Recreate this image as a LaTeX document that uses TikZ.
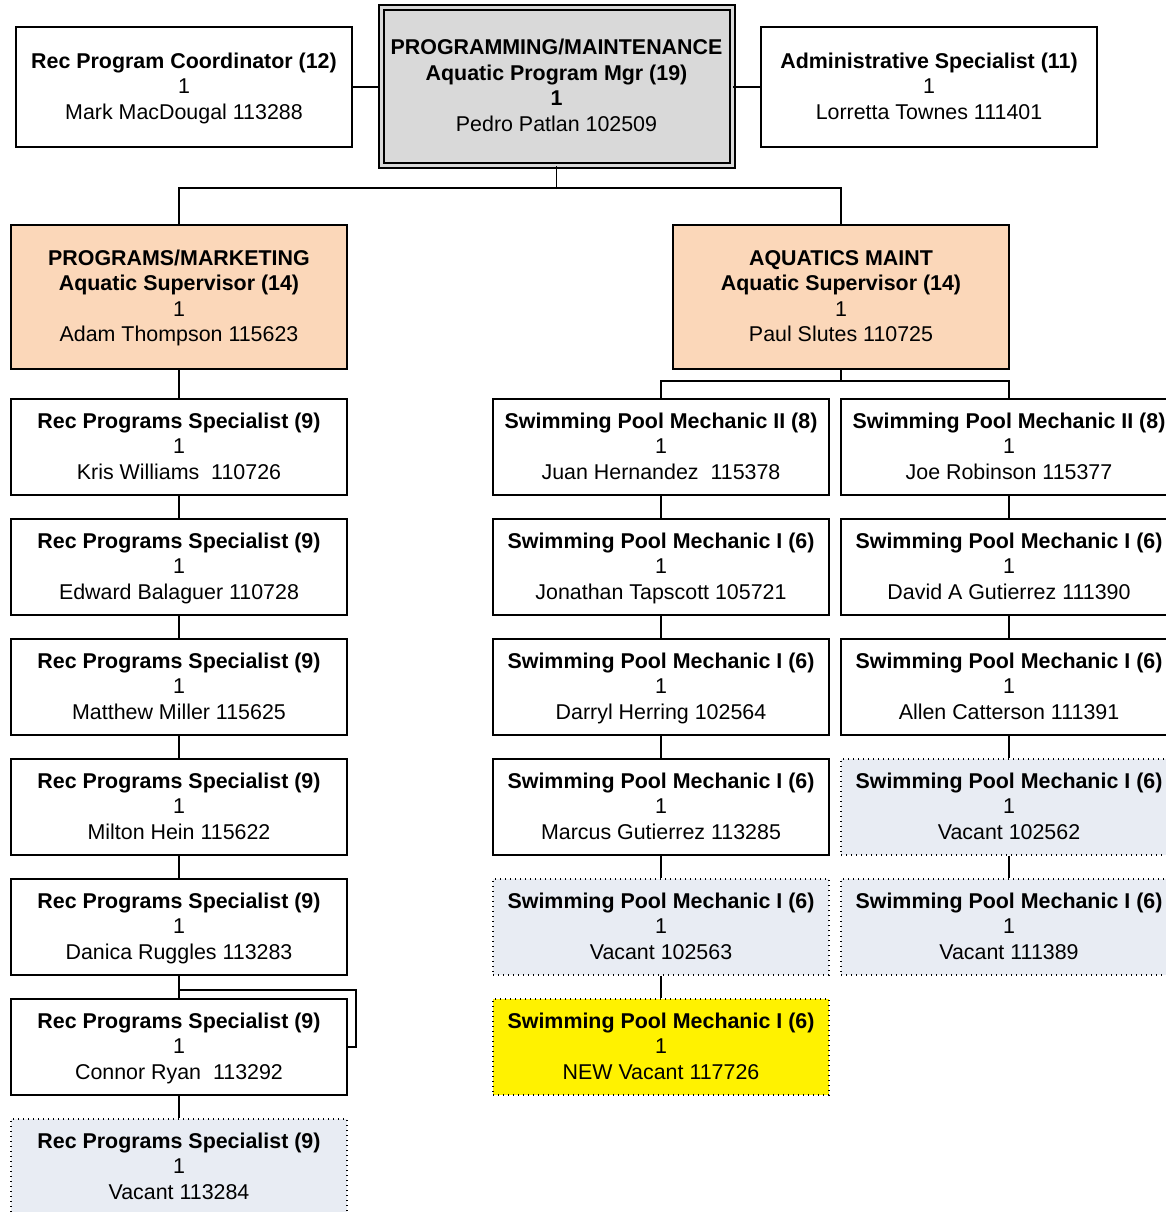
\documentclass[tikz,border=0pt]{standalone}
\usepackage{fontspec}
\setmainfont{Liberation Sans}
\usetikzlibrary{positioning,calc}
\definecolor{peach}{RGB}{251,215,185}
\definecolor{vacant}{RGB}{232,236,243}
\definecolor{mgrgrey}{RGB}{217,217,217}
\newcommand{\hd}[1]{\strut\textbf{#1}}

\begin{document}
\begin{tikzpicture}[x=1pt,y=-1pt,
  posbox/.style={draw,rectangle,line width=1.6pt,align=center,inner sep=0pt,minimum width=336pt,minimum height=96pt,font=\fontsize{21.4}{25.5}\selectfont,execute at end node={\rule[-4.6pt]{0pt}{4.6pt}}},
  vacbox/.style={posbox,fill=vacant,line width=1.3pt,dash pattern=on 1.3pt off 3.7pt},
  supbox/.style={posbox,fill=peach,minimum height=144pt},
  link/.style={line width=1.6pt}]
  \useasboundingbox (0,0) rectangle (1165,1212);

  % top row
  \node[posbox,minimum height=120pt] (coord) at (184,87) {\hd{Rec Program Coordinator (12)}\\1\\Mark MacDougal 113288};
  \node[posbox,fill=mgrgrey,minimum width=351pt,minimum height=157pt,line width=2pt,double=mgrgrey,double distance=3pt] (mgr) at (556.5,86.5) {\hd{PROGRAMMING/MAINTENANCE}\\\textbf{Aquatic Program Mgr (19)}\\\textbf{1}\\Pedro Patlan 102509};
  \node[posbox,minimum height=120pt] (admin) at (929,87) {\hd{Administrative Specialist (11)}\\1\\Lorretta Townes 111401};

  \node[supbox] (supP) at (179,297) {\hd{PROGRAMS/MARKETING}\\\textbf{Aquatic Supervisor (14)}\\1\\Adam Thompson 115623};
  \node[supbox] (supM) at (841,297) {\hd{AQUATICS MAINT}\\\textbf{Aquatic Supervisor (14)}\\1\\Paul Slutes 110725};

  % programs column
  \node[posbox] (rps1) at (179,447) {\hd{Rec Programs Specialist (9)}\\1\\Kris Williams\ \ 110726};
  \node[posbox] (rps2) at (179,567) {\hd{Rec Programs Specialist (9)}\\1\\Edward Balaguer 110728};
  \node[posbox] (rps3) at (179,687) {\hd{Rec Programs Specialist (9)}\\1\\Matthew Miller 115625};
  \node[posbox] (rps4) at (179,807) {\hd{Rec Programs Specialist (9)}\\1\\Milton Hein 115622};
  \node[posbox] (rps5) at (179,927) {\hd{Rec Programs Specialist (9)}\\1\\Danica Ruggles 113283};
  \node[posbox] (rps6) at (179,1047) {\hd{Rec Programs Specialist (9)}\\1\\Connor Ryan\ \ 113292};
  \node[vacbox] (rps7) at (179,1167) {\hd{Rec Programs Specialist (9)}\\1\\Vacant 113284};

  % maintenance columns
  \node[posbox] (mecA1) at (661,447) {\hd{Swimming Pool Mechanic II (8)}\\1\\Juan Hernandez\ \ 115378};
  \node[posbox] (mecA2) at (661,567) {\hd{Swimming Pool Mechanic I (6)}\\1\\Jonathan Tapscott 105721};
  \node[posbox] (mecA3) at (661,687) {\hd{Swimming Pool Mechanic I (6)}\\1\\Darryl Herring 102564};
  \node[posbox] (mecA4) at (661,807) {\hd{Swimming Pool Mechanic I (6)}\\1\\Marcus Gutierrez 113285};
  \node[vacbox] (mecA5) at (661,927) {\hd{Swimming Pool Mechanic I (6)}\\1\\Vacant 102563};
  \node[vacbox,fill=yellow] (mecA6) at (661,1047) {\hd{Swimming Pool Mechanic I (6)}\\1\\NEW Vacant 117726};

  \node[posbox] (mecB1) at (1009,447) {\hd{Swimming Pool Mechanic II (8)}\\1\\Joe Robinson 115377};
  \node[posbox] (mecB2) at (1009,567) {\hd{Swimming Pool Mechanic I (6)}\\1\\David A Gutierrez 111390};
  \node[posbox] (mecB3) at (1009,687) {\hd{Swimming Pool Mechanic I (6)}\\1\\Allen Catterson 111391};
  \node[vacbox] (mecB4) at (1009,807) {\hd{Swimming Pool Mechanic I (6)}\\1\\Vacant 102562};
  \node[vacbox] (mecB5) at (1009,927) {\hd{Swimming Pool Mechanic I (6)}\\1\\Vacant 111389};

  % connectors
  \coordinate (splitTop) at (556.5,188);
  \coordinate (splitM) at (841,381);
  \coordinate (loopA) at (179,990);
  \coordinate (loopB) at (356,990);
  \draw[link] (coord.east) -- (coord.east -| mgr.west);
  \draw[link] (admin.west) -- (admin.west -| mgr.east);
  \draw[link] (mgr.south) -- (splitTop) -| (supP.north);
  \draw[link] (splitTop) -| (supM.north);
  \draw[link] (supM.south) -- (splitM) -| (mecA1.north);
  \draw[link] (splitM) -| (mecB1.north);
  \draw[link] (supP) -- (rps1) -- (rps2) -- (rps3) -- (rps4) -- (rps5) -- (rps6) -- (rps7);
  \draw[link] (loopA) -- (loopB) |- (rps6.east);
  \draw[link] (mecA1) -- (mecA2) -- (mecA3) -- (mecA4) -- (mecA5) -- (mecA6);
  \draw[link] (mecB1) -- (mecB2) -- (mecB3) -- (mecB4) -- (mecB5);
\end{tikzpicture}
\end{document}
